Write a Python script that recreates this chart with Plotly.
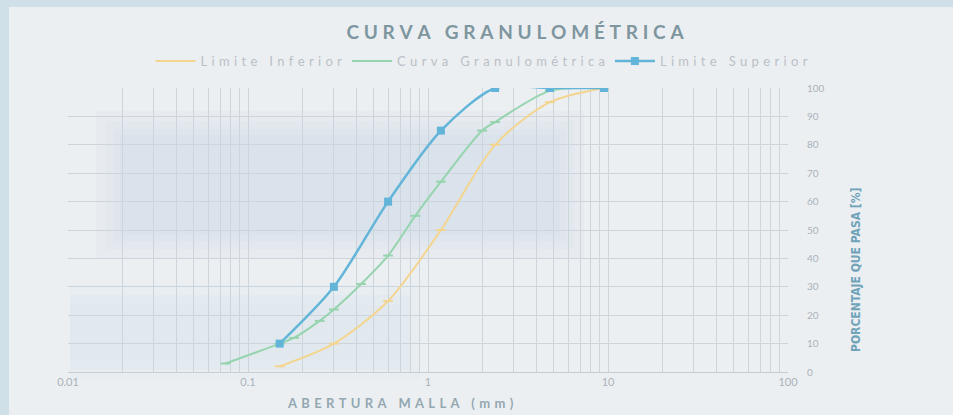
import plotly.graph_objects as go

# Data (sieve opening in mm, percent passing)
sieve_inf = [0.15, 0.3, 0.6, 1.18, 2.36, 4.75, 9.5]
pass_inf = [2, 10, 25, 50, 80, 95, 100]

sieve_curve = [0.075, 0.15, 0.18, 0.25, 0.3, 0.425, 0.6, 0.85, 1.18, 2.0, 2.36, 4.75, 9.5]
pass_curve = [3, 10, 12, 18, 22, 31, 41, 55, 67, 85, 88, 99, 100]

sieve_sup = [0.15, 0.3, 0.6, 1.18, 2.36, 4.75, 9.5]
pass_sup = [10, 30, 60, 85, 100, 100, 100]

names = ["Limite Inferior", "Curva Granulométrica", "Limite Superior"]
title_text = "CURVA GRANULOMÉTRICA"
x_title = "ABERTURA MALLA (mm)"
y_title = "PORCENTAJE QUE PASA [%]"

c_inf = "#f3d590"
c_curve = "#95d4ae"
c_sup = "#62b5d8"

W, H = 953, 415
L, R, T, B = 68, 165, 88, 43
PW, PH = W - L - R, H - T - B


def px_x(p):
    return (p - L) / PW


def px_y(p):
    return (H - B - p) / PH


def spaced(s, sep):
    return sep.join(list(s))


fig = go.Figure()
fig.add_trace(go.Scatter(x=sieve_inf, y=pass_inf, name=spaced(names[0], "\u2004"),
                         mode="lines+markers",
                         line=dict(color=c_inf, width=2, shape="spline", smoothing=0.8),
                         marker=dict(symbol="line-ew", size=7, color=c_inf,
                                     line=dict(color=c_inf, width=2))))
fig.add_trace(go.Scatter(x=sieve_curve, y=pass_curve, name=spaced(names[1], "\u2004"),
                         mode="lines+markers",
                         line=dict(color=c_curve, width=2, shape="spline", smoothing=0.8),
                         marker=dict(symbol="line-ew", size=7, color=c_curve,
                                     line=dict(color=c_curve, width=2))))
fig.add_trace(go.Scatter(x=sieve_sup, y=pass_sup, name=spaced(names[2], "\u2004"),
                         mode="lines+markers",
                         line=dict(color=c_sup, width=2.5, shape="spline", smoothing=0.8),
                         marker=dict(symbol="square", size=8, color=c_sup)))

grid_c = "#cdd5dc"

shapes = [
    # inner card over light-blue frame
    dict(type="rect", xref="paper", yref="paper", layer="below",
         x0=px_x(9), x1=px_x(W + 5), y0=px_y(H + 5), y1=px_y(7),
         fillcolor="#eceff2", line=dict(width=0)),
]
# soft bluish band from the photographed backdrop (stacked for soft edges)
for d in [24, 14, 6, 0]:
    shapes.append(dict(type="rect", xref="paper", yref="paper", layer="below",
                       x0=px_x(120 - d), x1=px_x(560 + d), y0=px_y(235 + d), y1=px_y(135 - d),
                       fillcolor="rgba(185,208,222,0.10)", line=dict(width=0)))
for d in [20, 10, 0]:
    shapes.append(dict(type="rect", xref="paper", yref="paper", layer="below",
                       x0=px_x(70), x1=px_x(400 + d), y0=px_y(360 + d), y1=px_y(305 - d),
                       fillcolor="rgba(190,212,224,0.08)", line=dict(width=0)))

fig.update_layout(
    width=W, height=H,
    margin=dict(l=L, r=R, t=T, b=B),
    paper_bgcolor="#cfe0e8",
    plot_bgcolor="rgba(0,0,0,0)",
    shapes=shapes,
    font=dict(family="Lato, Open Sans, sans-serif", color="#a9b1b8", size=11),
    title=dict(text="<b>" + spaced(title_text, "\u2005") + "</b>", x=515 / W, xref="container",
               xanchor="center", y=1 - 32 / H, yref="container", yanchor="middle",
               font=dict(size=19, color="#7e969f", family="Lato, sans-serif")),
    legend=dict(orientation="h", x=px_x(482), xanchor="center", y=px_y(61), yanchor="middle",
                font=dict(size=13, color="#b9c0c6"), bgcolor="rgba(0,0,0,0)",
                itemwidth=40, tracegroupgap=0),
    showlegend=True,
    xaxis=dict(type="log", range=[-2, 2], dtick=1, tickmode="linear",
               showgrid=True, gridcolor=grid_c, gridwidth=1,
               minor=dict(dtick="D1", showgrid=True, gridcolor=grid_c, gridwidth=1),
               showline=True, linecolor="#c5ccd3", zeroline=False,
               tickfont=dict(size=11, color="#aab2b9"), ticks=""),
    yaxis=dict(range=[0, 100], dtick=10, side="right", showgrid=True, gridcolor=grid_c,
               gridwidth=1, zeroline=False, showline=False,
               tickfont=dict(size=10, color="#aab2b9"), ticks="",
               ticklabelstandoff=18),
    annotations=[
        dict(text="<b>" + y_title + "</b>", textangle=-90, showarrow=False,
             xref="paper", yref="paper", x=px_x(856), y=px_y(270),
             xanchor="center", yanchor="middle",
             font=dict(size=12, color="#6fa3b8",
                       family="DejaVu Sans Condensed, Liberation Sans Narrow, sans-serif")),
        dict(text="<b>" + spaced(x_title, "\u2004") + "</b>", showarrow=False,
             xref="paper", yref="paper", x=px_x(400), y=px_y(403),
             xanchor="center", yanchor="middle",
             font=dict(size=13, color="#93a8b0")),
    ],
)

fig.write_html("out.html")
